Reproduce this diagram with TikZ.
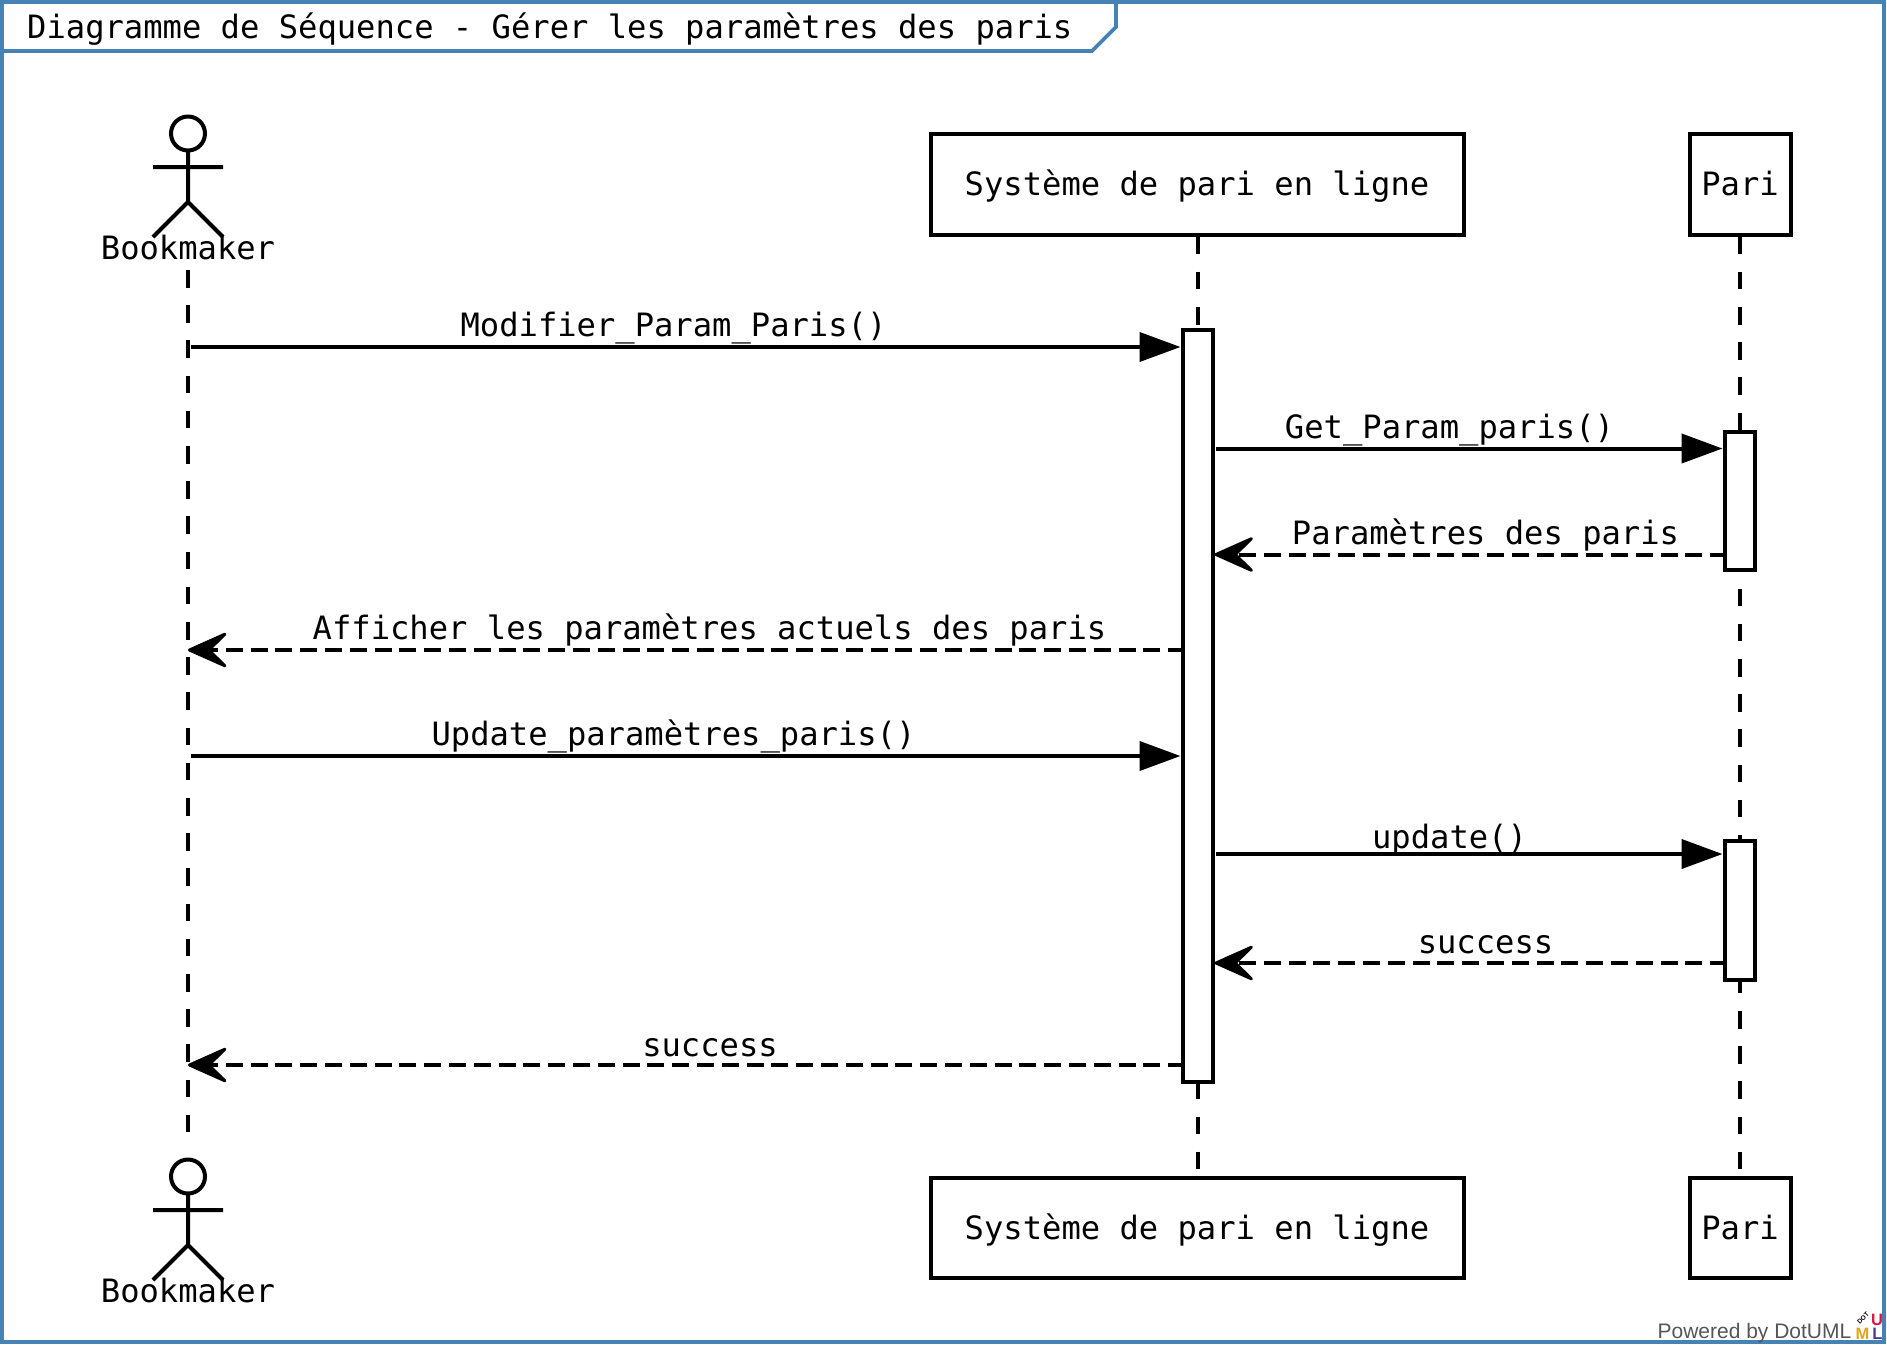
\documentclass[tikz,border=0pt]{standalone}
\usepackage{fontspec}
\setmonofont{DejaVu Sans Mono}
\setsansfont{Liberation Sans}
\usetikzlibrary{arrows.meta}
\definecolor{framec}{HTML}{4682B4}
\definecolor{footc}{HTML}{555555}
\tikzset{
  px/.style={x=1pt,y=-1pt},
  frameln/.style={draw=framec,line width=3.6pt},
  ln/.style={draw=black,line width=4pt},
  lifeln/.style={draw=black,line width=4pt,dash pattern=on 17.6pt off 17.6pt},
  objbox/.style={ln,fill=white,rectangle,inner sep=0pt},
  actbox/.style={ln,fill=white,rectangle,inner sep=0pt,minimum width=30pt},
  txt/.style={font=\fontsize{32.15}{38}\selectfont\ttfamily,anchor=base,inner sep=0pt,text=black},
  sync/.style={ln,-{Triangle[length=41pt,width=29pt]}},
  ret/.style={ln,dash pattern=on 17pt off 7.8pt,dash phase=4.6pt,-{Stealth[length=46pt,width=41pt,inset=21pt,line width=3pt,round]}},
  logofont/.style={anchor=base,inner sep=0pt,font=\fontsize{16.5}{18}\selectfont\sffamily\bfseries}
}
\begin{document}
\begin{tikzpicture}[px]
\useasboundingbox (0,0) rectangle (1887,1344);
\fill[white] (0,0) rectangle (1887,1344);
\draw[frameln] (1.8,1.8) rectangle (1884,1342);
\draw[frameln,line join=miter] (1.8,51) -- (1092,51) -- (1116,27) -- (1116,1.8);
\node[txt,anchor=base west] (title) at (27,38.5) {Diagramme de Séquence - Gérer les paramètres des paris};

% actor top
\coordinate (ahead) at (188,133.5);
\coordinate (aneck) at (188,151);
\coordinate (ahip) at (188,202);
\coordinate (alarm) at (153,167);
\coordinate (ararm) at (223,167);
\coordinate (alleg) at (153,237);
\coordinate (arleg) at (223,237);
\draw[ln] (ahead) circle (17);
\draw[ln] (aneck) -- (ahip) (alarm) -- (ararm) (alleg) -- (ahip) -- (arleg);
\node[txt] (actT) at (188,259) {Bookmaker};
% actor bottom
\coordinate (bhead) at (188,1176.5);
\coordinate (bneck) at (188,1194);
\coordinate (bhip) at (188,1245);
\coordinate (blarm) at (153,1210);
\coordinate (brarm) at (223,1210);
\coordinate (blleg) at (153,1280);
\coordinate (brleg) at (223,1280);
\draw[ln] (bhead) circle (17);
\draw[ln] (bneck) -- (bhip) (blarm) -- (brarm) (blleg) -- (bhip) -- (brleg);
\node[txt] (actB) at (188,1302) {Bookmaker};

% lifeline anchors
\coordinate (actTl) at (188,270);
\coordinate (actBl) at (188,1133);

% object boxes
\node[objbox,minimum width=532.5pt,minimum height=101pt] (sysT) at (1197.5,184) {};
\node[objbox,minimum width=101pt,minimum height=101pt] (pariT) at (1740,184) {};
\node[objbox,minimum width=532.5pt,minimum height=100pt] (sysB) at (1197.5,1228) {};
\node[objbox,minimum width=101pt,minimum height=100pt] (pariB) at (1740,1228) {};
\node[txt] at (1197,195) {Système de pari en ligne};
\node[txt] at (1740,195) {Pari};
\node[txt] at (1197,1239.5) {Système de pari en ligne};
\node[txt] at (1740,1239.5) {Pari};

% lifelines
\draw[lifeln] (actTl) -- (actBl);
\draw[lifeln] (sysT.south) -- (sysB.north);
\draw[lifeln] (pariT.south) -- (pariB.north);

% activations
\node[actbox,minimum height=751.5pt] (sysA) at (1197.5,705.75) {};
\node[actbox,minimum height=138pt] (p1) at (1739.5,501) {};
\node[actbox,minimum height=139pt] (p2) at (1739.5,910.5) {};

% message ends
\coordinate (m1s) at (191,347);  \coordinate (m1e) at (sysA.west |- m1s);
\coordinate (m2s) at (1216,448.5); \coordinate (m2e) at (p1.west |- m2s);
\coordinate (m3s) at (p1.west |- 0,554.5); \coordinate (m3e) at (sysA.east |- m3s);
\coordinate (m4s) at (sysA.west |- 0,650); \coordinate (m4e) at (188,650);
\coordinate (m5s) at (191,756);  \coordinate (m5e) at (sysA.west |- m5s);
\coordinate (m6s) at (1216,854); \coordinate (m6e) at (p2.west |- m6s);
\coordinate (m7s) at (p2.west |- 0,963); \coordinate (m7e) at (sysA.east |- m7s);
\coordinate (m8s) at (sysA.west |- 0,1065); \coordinate (m8e) at (188,1065);

\draw[sync] (m1s) -- (m1e);
\draw[sync] (m2s) -- (m2e);
\draw[ret] (m3s) -- (m3e);
\draw[ret] (m4s) -- (m4e);
\draw[sync] (m5s) -- (m5e);
\draw[sync] (m6s) -- (m6e);
\draw[ret] (m7s) -- (m7e);
\draw[ret] (m8s) -- (m8e);

% labels
\node[txt] (l1) at (673.5,336) {Modifier\_Param\_Paris()};
\node[txt] (l2) at (1449.5,438) {Get\_Param\_paris()};
\node[txt] (l3) at (1485.5,544) {Paramètres des paris};
\node[txt] (l4) at (709.5,639) {Afficher les paramètres actuels des paris};
\node[txt] (l5) at (673.5,745) {Update\_paramètres\_paris()};
\node[txt] (l6) at (1449.5,848) {update()};
\node[txt] (l7) at (1485.5,953) {success};
\node[txt] (l8) at (710,1056) {success};

% footer
\node[anchor=base east,inner sep=0pt,text=footc,font=\fontsize{21}{24}\selectfont\sffamily] (foot) at (1851.5,1338) {Powered by DotUML};
\node[logofont,text={rgb,255:red,225;green,165;blue,30}] (lgM) at (1862.5,1339.5) {M};
\node[logofont,text={rgb,255:red,75;green,60;blue,145}] (lgL) at (1877.5,1339.5) {L};
\node[logofont,text={rgb,255:red,220;green,20;blue,70}] (lgU) at (1877,1325) {U};
\node[rotate=45,inner sep=0pt,font=\fontsize{6.5}{7}\selectfont\sffamily\bfseries,text=black] (lgD) at (1863,1318) {DOT};
\end{tikzpicture}
\end{document}
